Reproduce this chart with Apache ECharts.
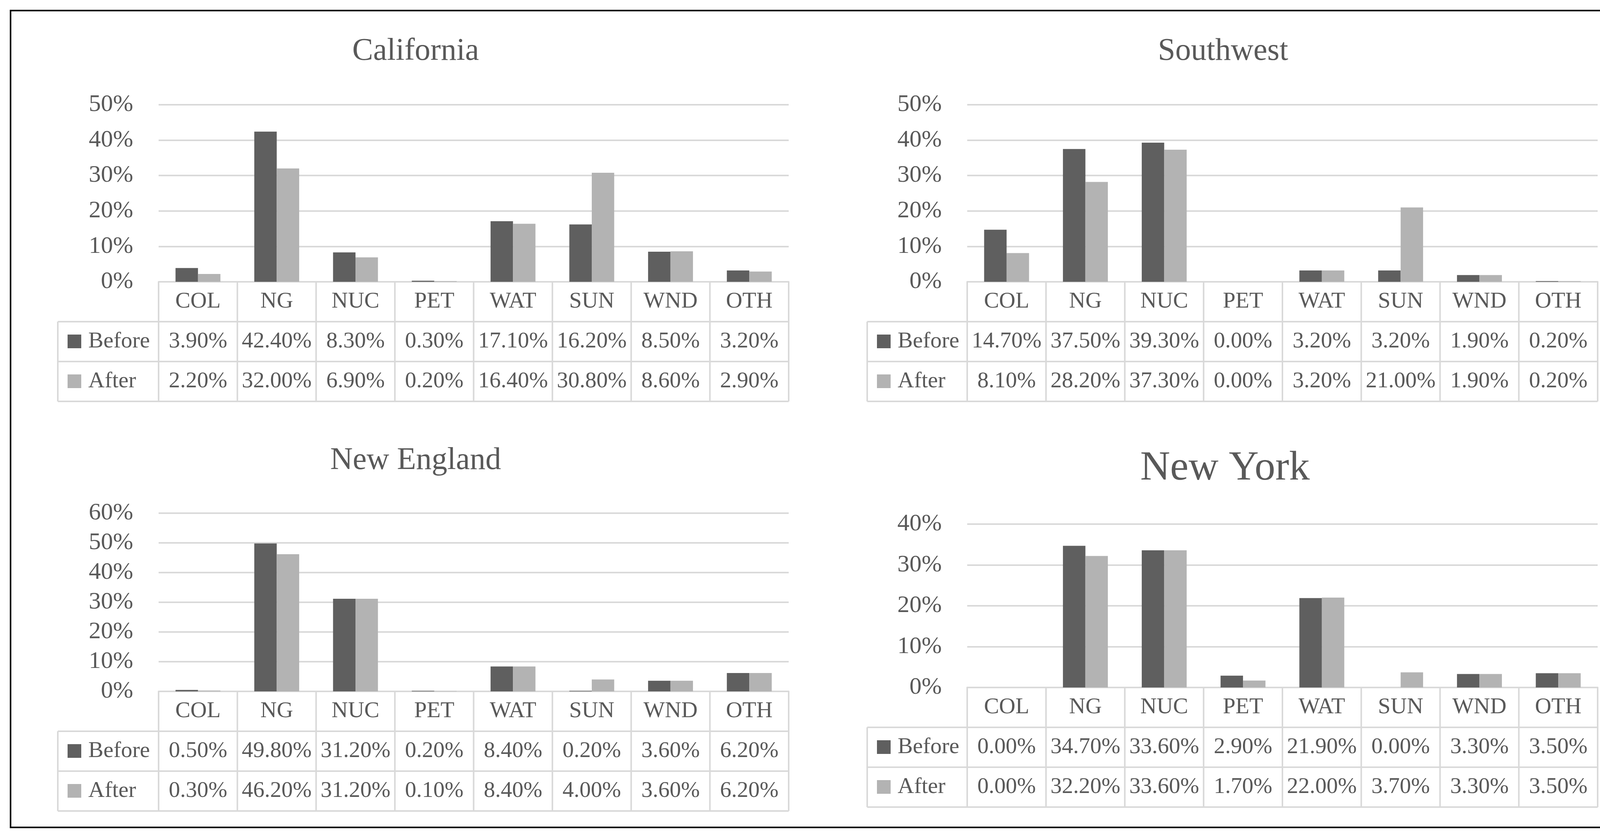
<!DOCTYPE html>
<html>
<head>
<meta charset="utf-8">
<script src="https://cdn.jsdelivr.net/npm/echarts@6/dist/echarts.min.js"></script>
<style>
html,body{margin:0;padding:0;background:#fff;}
#c{width:4204px;height:2139px;}
</style>
</head>
<body>
<div id="c"></div>
<script>
// ---------- data ----------
const categories = ['COL', 'NG', 'NUC', 'PET', 'WAT', 'SUN', 'WND', 'OTH'];
const seriesNames = ['Before', 'After'];
const regionNames = ['California', 'Southwest', 'New England', 'New York'];

const californiaBefore = [3.9, 42.4, 8.3, 0.3, 17.1, 16.2, 8.5, 3.2];
const californiaAfter  = [2.2, 32.0, 6.9, 0.2, 16.4, 30.8, 8.6, 2.9];
const southwestBefore  = [14.7, 37.5, 39.3, 0.0, 3.2, 3.2, 1.9, 0.2];
const southwestAfter   = [8.1, 28.2, 37.3, 0.0, 3.2, 21.0, 1.9, 0.2];
const newEnglandBefore = [0.5, 49.8, 31.2, 0.2, 8.4, 0.2, 3.6, 6.2];
const newEnglandAfter  = [0.3, 46.2, 31.2, 0.1, 8.4, 4.0, 3.6, 6.2];
const newYorkBefore    = [0.0, 34.7, 33.6, 2.9, 21.9, 0.0, 3.3, 3.5];
const newYorkAfter     = [0.0, 32.2, 33.6, 1.7, 22.0, 3.7, 3.3, 3.5];

const yAxisMax = [50, 50, 60, 40];
const yAxisStep = 10;

const regionData = [
  [californiaBefore, californiaAfter],
  [southwestBefore, southwestAfter],
  [newEnglandBefore, newEnglandAfter],
  [newYorkBefore, newYorkAfter]
];

// ---------- styling / layout ----------
const FONT = "'Liberation Serif', 'DejaVu Serif', serif";
const TEXT = '#595959';
const LINE = '#d9d9d9';
const COLORS = ['#5f5f5f', '#b3b3b3'];
const TABLE_FONT = 58;
const ROW_H = 102;
const layout = [
  {left: 406,  top: 268,  width: 1613, height: 453, titleX: 1064, titleTop: 92,   titleSize: 80,  tableLeft: 148},
  {left: 2476, top: 268,  width: 1614, height: 453, titleX: 3131, titleTop: 92,   titleSize: 80,  tableLeft: 2220},
  {left: 406,  top: 1313, width: 1613, height: 456, titleX: 1064, titleTop: 1139, titleSize: 80,  tableLeft: 148},
  {left: 2476, top: 1341, width: 1614, height: 418, titleX: 3136, titleTop: 1146, titleSize: 106, tableLeft: 2220}
];

const chart = echarts.init(document.getElementById('c'), null, {renderer: 'canvas'});

const option = {
  backgroundColor: '#ffffff',
  animation: false,
  title: regionNames.map((name, i) => ({
    text: name,
    left: layout[i].titleX,
    top: layout[i].titleTop,
    textAlign: 'center',
    padding: 0,
    textStyle: {fontSize: layout[i].titleSize, fontWeight: 'normal', color: TEXT, fontFamily: FONT}
  })),
  grid: layout.map(l => ({left: l.left, top: l.top, width: l.width, height: l.height, containLabel: false})),
  xAxis: layout.map((l, i) => ({
    type: 'category',
    gridIndex: i,
    data: categories,
    axisLine: {show: true, lineStyle: {color: LINE, width: 4}},
    axisTick: {show: false},
    axisLabel: {interval: 0, fontSize: TABLE_FONT, color: TEXT, fontFamily: FONT, margin: 51, verticalAlign: 'middle'}
  })),
  yAxis: layout.map((l, i) => ({
    type: 'value',
    gridIndex: i,
    min: 0,
    max: yAxisMax[i],
    interval: yAxisStep,
    axisLine: {show: false},
    axisTick: {show: false},
    axisLabel: {formatter: '{value}%', fontSize: 62, color: TEXT, fontFamily: FONT, margin: 65},
    splitLine: {show: true, lineStyle: {color: LINE, width: 4}}
  })),
  series: []
};

regionData.forEach((pair, i) => {
  pair.forEach((vals, s) => {
    option.series.push({
      type: 'bar',
      name: seriesNames[s],
      xAxisIndex: i,
      yAxisIndex: i,
      data: vals,
      barGap: '0%',
      barCategoryGap: '43%',
      silent: true,
      itemStyle: {color: COLORS[s]}
    });
  });
});

chart.setOption(option);

// ---------- data tables under each chart ----------
const graphics = [{
  type: 'rect',
  silent: true,
  shape: {x: 27, y: 27, width: 4143, height: 2090},
  style: {fill: null, stroke: '#000000', lineWidth: 4}
}];

function line(x1, y1, x2, y2) {
  graphics.push({type: 'line', silent: true, shape: {x1, y1, x2, y2}, style: {stroke: LINE, lineWidth: 4}});
}
function text(str, x, y, align) {
  graphics.push({
    type: 'text', silent: true, x: x, y: y,
    style: {text: str, fill: TEXT, fontSize: TABLE_FONT, fontFamily: FONT,
            align: align, verticalAlign: 'middle', textAlign: align, textVerticalAlign: 'middle'}
  });
}

regionData.forEach((pair, i) => {
  const l = layout[i];
  const axisY = chart.convertToPixel({yAxisIndex: i}, 0);
  const centers = categories.map(c => chart.convertToPixel({xAxisIndex: i}, c));
  const cw = centers.length > 1 ? centers[1] - centers[0] : l.width;
  const xL = centers[0] - cw / 2;
  const xR = centers[centers.length - 1] + cw / 2;
  const yBottom = axisY + ROW_H * (seriesNames.length + 1);
  // vertical cell borders
  for (let c = 0; c <= categories.length; c++) {
    const x = xL + c * cw;
    line(x, axisY, x, yBottom);
  }
  line(l.tableLeft, axisY + ROW_H, l.tableLeft, yBottom);
  // horizontal row borders
  for (let r = 1; r <= seriesNames.length + 1; r++) {
    line(l.tableLeft, axisY + r * ROW_H, xR, axisY + r * ROW_H);
  }
  // legend keys + values
  pair.forEach((vals, s) => {
    const yc = axisY + ROW_H * (s + 1) + ROW_H / 2;
    graphics.push({type: 'rect', silent: true, shape: {x: l.tableLeft + 25, y: yc - 18, width: 35, height: 35}, style: {fill: COLORS[s]}});
    text(seriesNames[s], l.tableLeft + 78, yc, 'left');
    vals.forEach((v, c) => text(v.toFixed(2) + '%', centers[c], yc, 'center'));
  });
});

chart.setOption({graphic: {elements: graphics}});
</script>
</body>
</html>
